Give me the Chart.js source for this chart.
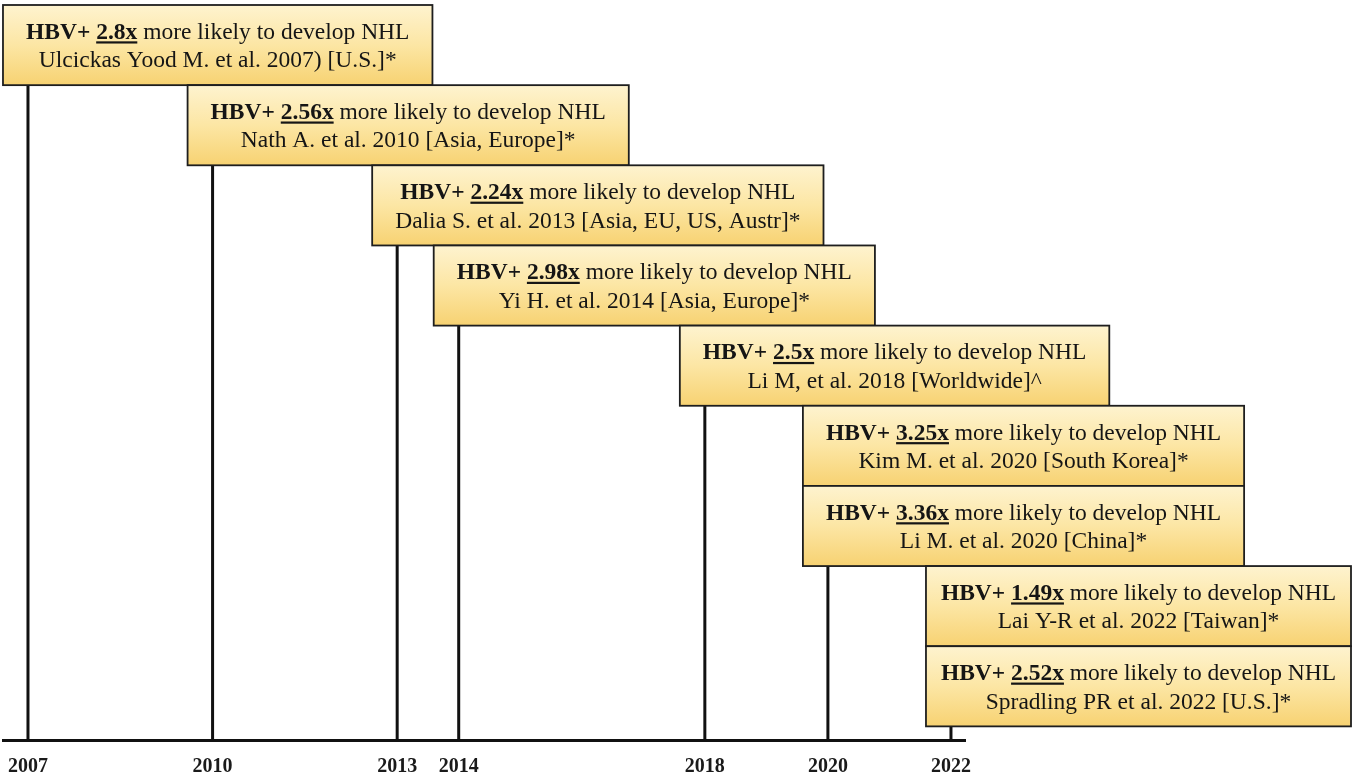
<!DOCTYPE html>
<html><head><meta charset="utf-8">
<script src="https://cdn.jsdelivr.net/npm/chart.js@4.4.0/dist/chart.umd.min.js"></script>
<style>html,body{margin:0;padding:0;background:#fff;overflow:hidden}#wrap{width:1358px;height:781px;position:relative}</style>
</head><body><div id="wrap"><canvas id="c"></canvas></div>
<script>
// ---- data ----
const tickYears = [2007, 2010, 2013, 2014, 2018, 2020, 2022];
const studyYears = [2007, 2010, 2013, 2014, 2018, 2020, 2020, 2022, 2022];
const riskRatios = ['2.8x', '2.56x', '2.24x', '2.98x', '2.5x', '3.25x', '3.36x', '1.49x', '2.52x'];
const citations = [
  'Ulcickas Yood M. et al. 2007) [U.S.]*',
  'Nath A. et al. 2010 [Asia, Europe]*',
  'Dalia S. et al. 2013 [Asia, EU, US, Austr]*',
  'Yi H. et al. 2014 [Asia, Europe]*',
  'Li M, et al. 2018 [Worldwide]^',
  'Kim M. et al. 2020 [South Korea]*',
  'Li M. et al. 2020 [China]*',
  'Lai Y-R et al. 2022 [Taiwan]*',
  'Spradling PR et al. 2022 [U.S.]*'
];
const labelPrefix = 'HBV+ ';
const labelSuffix = ' more likely to develop NHL';

// ---- layout / style ----
const Y_MAX = 9.17;
const FONT = '"Liberation Serif", "Times New Roman", serif';
const FS = 23.5;
const BOX_PAD = 23;
const BOX_SHIFT = 25;
const RIGHT_LIMIT = 1351;

const lineDatasets = tickYears.map(yr => {
  const last = studyYears.lastIndexOf(yr);
  return {
    data: [{x: yr, y: last + 1}, {x: yr, y: Y_MAX}],
    showLine: true, pointRadius: 0, borderColor: '#111', borderWidth: 3
  };
});

const boxPlugin = {
  id: 'boxes',
  afterDatasetsDraw(chart) {
    const ctx = chart.ctx, xs = chart.scales.x, ys = chart.scales.y;
    ctx.save();
    studyYears.forEach((yr, i) => {
      const top = ys.getPixelForValue(i), bot = ys.getPixelForValue(i + 1);
      ctx.font = 'bold ' + FS + 'px ' + FONT;
      const wPre = ctx.measureText(labelPrefix).width;
      const wRat = ctx.measureText(riskRatios[i]).width;
      ctx.font = FS + 'px ' + FONT;
      const wSuf = ctx.measureText(labelSuffix).width;
      const wCit = ctx.measureText(citations[i]).width;
      const w1 = wPre + wRat + wSuf;
      const left = xs.getPixelForValue(yr) - BOX_SHIFT;
      let w = Math.max(w1, wCit) + 2 * BOX_PAD;
      if (left + w > RIGHT_LIMIT) w = RIGHT_LIMIT - left;
      const g = ctx.createLinearGradient(0, top, 0, bot);
      g.addColorStop(0, '#fef3cf');
      g.addColorStop(0.5, '#fce6a4');
      g.addColorStop(1, '#f7d272');
      ctx.fillStyle = g;
      ctx.fillRect(left, top, w, bot - top);
      ctx.strokeStyle = '#1e1e1e';
      ctx.lineWidth = 1.8;
      ctx.strokeRect(left, top, w, bot - top);
      const cx = left + w / 2, cy = (top + bot) / 2;
      ctx.fillStyle = '#151515';
      ctx.textBaseline = 'alphabetic';
      ctx.textAlign = 'left';
      const base1 = cy - 14 + FS * 0.33, base2 = cy + 14.5 + FS * 0.33;
      let x = cx - w1 / 2;
      ctx.font = 'bold ' + FS + 'px ' + FONT;
      ctx.fillText(labelPrefix, x, base1); x += wPre;
      ctx.fillText(riskRatios[i], x, base1);
      ctx.fillRect(x, base1 + 2.5, wRat, 2.2);
      x += wRat;
      ctx.font = FS + 'px ' + FONT;
      ctx.fillText(labelSuffix, x, base1);
      ctx.textAlign = 'center';
      ctx.fillText(citations[i], cx, base2);
    });
    ctx.restore();
  }
};

new Chart(document.getElementById('c'), {
  type: 'scatter',
  data: {datasets: lineDatasets},
  options: {
    responsive: true, maintainAspectRatio: false, animation: false,
    layout: {padding: {left: 3, right: 393, top: 5, bottom: 0}},
    plugins: {legend: {display: false}, tooltip: {enabled: false}},
    scales: {
      x: {
        type: 'linear', min: 2006.594, max: 2022.228,
        afterBuildTicks: s => { s.ticks = tickYears.map(v => ({value: v})); },
        afterFit: s => { s.height = 41; s.paddingLeft = 0; s.paddingRight = 0; },
        grid: {display: false, drawTicks: false},
        border: {display: true, color: '#111', width: 3},
        ticks: {
          autoSkip: false, maxRotation: 0, padding: 15, color: '#1a1a1a',
          font: {family: FONT, size: 20, weight: 'bold'},
          callback: v => String(v)
        }
      },
      y: {type: 'linear', min: 0, max: Y_MAX, reverse: true, display: false}
    }
  },
  plugins: [boxPlugin]
});
</script></body></html>
